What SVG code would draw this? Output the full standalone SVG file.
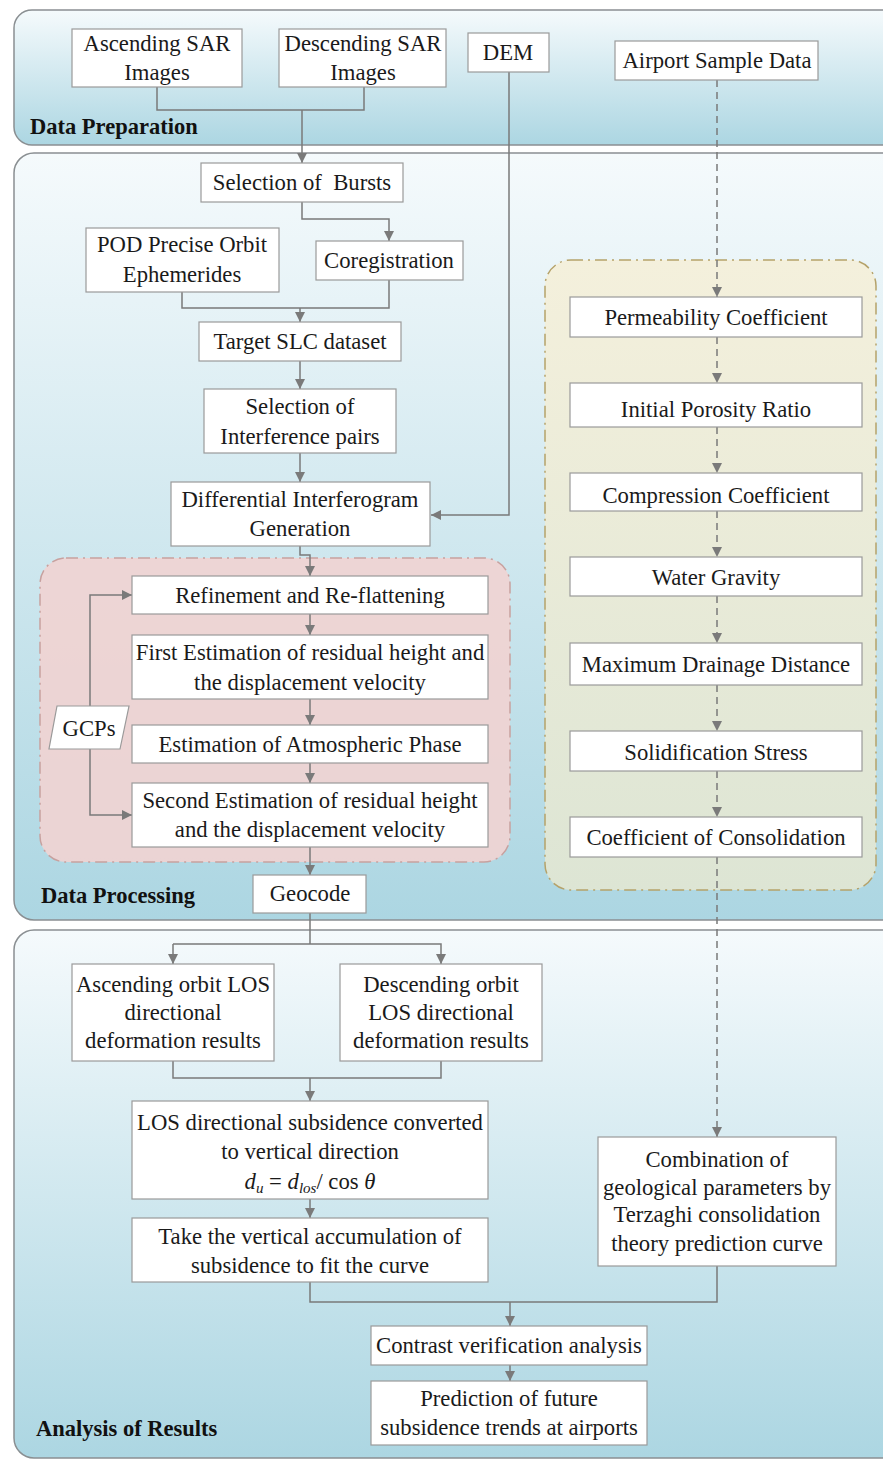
<svg xmlns="http://www.w3.org/2000/svg" width="883" height="1461" viewBox="0 0 883 1461">
<defs>
<linearGradient id="gBlue" x1="0" y1="0" x2="0" y2="1">
<stop offset="0" stop-color="#f5fafc"/>
<stop offset="1" stop-color="#acd6e2"/>
</linearGradient>
<linearGradient id="gYel" x1="0" y1="0" x2="0" y2="1">
<stop offset="0" stop-color="#f4f0dc"/>
<stop offset="1" stop-color="#dde5d4"/>
</linearGradient>
<marker id="arr" viewBox="0 0 10 10" refX="10" refY="5" markerWidth="10" markerHeight="10" markerUnits="userSpaceOnUse" orient="auto">
<path d="M0,0 L10,5 L0,10 z" fill="#7a7a7a"/>
</marker>
<style>
.panel{fill:url(#gBlue);stroke:#8a8f92;stroke-width:1.5}
.box{fill:#ffffff;stroke:#9a9a9a;stroke-width:1.2}
.t{font-family:"Liberation Serif","Times New Roman",serif;font-size:22.7px;fill:#1a1a1a;text-anchor:middle}
.lbl{font-family:"Liberation Serif","Times New Roman",serif;font-size:22.5px;font-weight:bold;fill:#111}
.c{fill:none;stroke:#7a7a7a;stroke-width:1.5}
.ca{fill:none;stroke:#7a7a7a;stroke-width:1.5;marker-end:url(#arr)}
.cd{fill:none;stroke:#7a7a7a;stroke-width:1.5;stroke-dasharray:7 5}
.cda{fill:none;stroke:#7a7a7a;stroke-width:1.5;stroke-dasharray:7 5;marker-end:url(#arr)}
</style>
</defs>

<g id="panels">
<rect class="panel" x="14" y="10" width="890" height="135" rx="18"/>
<rect class="panel" x="14" y="153" width="890" height="767" rx="20"/>
<rect class="panel" x="14" y="930" width="890" height="528" rx="20"/>
<text class="lbl" x="30" y="134">Data Preparation</text>
<text class="lbl" x="41" y="903">Data Processing</text>
<text class="lbl" x="36" y="1436">Analysis of Results</text>
</g>

<g id="regions">
<rect x="40" y="558" width="470" height="304" rx="26" fill="#f1d3d1" fill-opacity="0.9" stroke="#c7a19f" stroke-width="1.5" stroke-dasharray="12 5 2 5"/>
<rect x="545" y="260" width="331" height="630" rx="26" fill="url(#gYel)" stroke="#b5a26a" stroke-width="1.5" stroke-dasharray="12 5 2 5"/>
</g>

<g id="connectors">
<path class="c" d="M157,87 V110 H364 V87"/>
<path class="ca" d="M302,110 V163"/>
<path class="ca" d="M509,72 V515 H431"/>
<path class="ca" d="M302,202 V219 H389 V241"/>
<path class="c" d="M182,292 V308 H389 V280"/>
<path class="ca" d="M300,308 V322"/>
<path class="ca" d="M300,361 V389"/>
<path class="ca" d="M300,453 V482"/>
<path class="ca" d="M300,546 V555 H310 V576"/>
<path class="ca" d="M310,614 V635"/>
<path class="ca" d="M310,699 V725"/>
<path class="ca" d="M310,763 V783"/>
<path class="ca" d="M90,706 V595 H132"/>
<path class="ca" d="M90,749 V815 H132"/>
<path class="ca" d="M310,847 V875"/>
<path class="cda" d="M717,80 V297"/>
<path class="cda" d="M717,337 V383"/>
<path class="cda" d="M717,427 V473"/>
<path class="cda" d="M717,511 V557"/>
<path class="cda" d="M717,596 V643"/>
<path class="cda" d="M717,685 V731"/>
<path class="cda" d="M717,771 V817"/>
<path class="cda" d="M717,857 V1137"/>
<path class="c" d="M310,913 V944"/>
<path class="ca" d="M173,944 V964"/>
<path class="ca" d="M173,944 H441 V964"/>
<path class="c" d="M173,1061 V1078 H441 V1061"/>
<path class="ca" d="M310,1078 V1101"/>
<path class="ca" d="M310,1199 V1218"/>
<path class="c" d="M310,1282 V1302 H717 V1266"/>
<path class="ca" d="M510,1302 V1326"/>
<path class="ca" d="M510,1365 V1381"/>
</g>

<g id="n-asc-sar"><rect class="box" x="72" y="29" width="170" height="58"/><text class="t" x="157" y="51">Ascending SAR</text><text class="t" x="157" y="80">Images</text></g>
<g id="n-desc-sar"><rect class="box" x="279" y="29" width="167" height="58"/><text class="t" x="363" y="51">Descending SAR</text><text class="t" x="363" y="80">Images</text></g>
<g id="n-dem"><rect class="box" x="468" y="33" width="81" height="39"/><text class="t" x="508" y="60">DEM</text></g>
<g id="n-airport"><rect class="box" x="615" y="41" width="203" height="39"/><text class="t" x="717" y="68">Airport Sample Data</text></g>

<g id="n-bursts"><rect class="box" x="201" y="163" width="202" height="39"/><text class="t" x="302" y="190" xml:space="preserve">Selection of  Bursts</text></g>
<g id="n-pod"><rect class="box" x="86" y="228" width="193" height="64"/><text class="t" x="182" y="252">POD Precise Orbit</text><text class="t" x="182" y="282">Ephemerides</text></g>
<g id="n-coreg"><rect class="box" x="316" y="241" width="147" height="39"/><text class="t" x="389" y="268">Coregistration</text></g>
<g id="n-slc"><rect class="box" x="199" y="322" width="202" height="39"/><text class="t" x="300" y="349">Target SLC dataset</text></g>
<g id="n-pairs"><rect class="box" x="204" y="389" width="192" height="64"/><text class="t" x="300" y="414">Selection of</text><text class="t" x="300" y="444">Interference pairs</text></g>
<g id="n-diff"><rect class="box" x="171" y="482" width="259" height="64"/><text class="t" x="300" y="507">Differential Interferogram</text><text class="t" x="300" y="536">Generation</text></g>

<g id="n-refine"><rect class="box" x="132" y="576" width="356" height="38"/><text class="t" x="310" y="603">Refinement and Re-flattening</text></g>
<g id="n-first"><rect class="box" x="132" y="635" width="356" height="64"/><text class="t" x="310" y="660">First Estimation of residual height and</text><text class="t" x="310" y="690">the displacement velocity</text></g>
<g id="n-atmo"><rect class="box" x="132" y="725" width="356" height="38"/><text class="t" x="310" y="752">Estimation of Atmospheric Phase</text></g>
<g id="n-second"><rect class="box" x="132" y="783" width="356" height="64"/><text class="t" x="310" y="808">Second Estimation of residual height</text><text class="t" x="310" y="837">and the displacement velocity</text></g>
<g id="n-gcps"><polygon points="57,706 129,706 120,749 49,749" fill="#ffffff" stroke="#9a9a9a" stroke-width="1.2"/><text class="t" x="89" y="736">GCPs</text></g>
<g id="n-geocode"><rect class="box" x="253" y="875" width="113" height="38"/><text class="t" x="310" y="901">Geocode</text></g>

<g id="n-perm"><rect class="box" x="570" y="297" width="292" height="40"/><text class="t" x="716" y="325">Permeability Coefficient</text></g>
<g id="n-poro"><rect class="box" x="570" y="383" width="292" height="44"/><text class="t" x="716" y="417">Initial Porosity Ratio</text></g>
<g id="n-comp"><rect class="box" x="570" y="473" width="292" height="38"/><text class="t" x="716" y="503">Compression Coefficient</text></g>
<g id="n-water"><rect class="box" x="570" y="557" width="292" height="39"/><text class="t" x="716" y="585">Water Gravity</text></g>
<g id="n-drain"><rect class="box" x="570" y="643" width="292" height="42"/><text class="t" x="716" y="672">Maximum Drainage Distance</text></g>
<g id="n-solid"><rect class="box" x="570" y="731" width="292" height="40"/><text class="t" x="716" y="760">Solidification Stress</text></g>
<g id="n-consol"><rect class="box" x="570" y="817" width="292" height="40"/><text class="t" x="716" y="845">Coefficient of Consolidation</text></g>

<g id="n-asc-los"><rect class="box" x="72" y="964" width="202" height="97"/><text class="t" x="173" y="992">Ascending orbit LOS</text><text class="t" x="173" y="1020">directional</text><text class="t" x="173" y="1048">deformation results</text></g>
<g id="n-desc-los"><rect class="box" x="340" y="964" width="202" height="97"/><text class="t" x="441" y="992">Descending orbit</text><text class="t" x="441" y="1020">LOS directional</text><text class="t" x="441" y="1048">deformation results</text></g>
<g id="n-convert"><rect class="box" x="132" y="1101" width="356" height="98"/><text class="t" x="310" y="1130">LOS directional subsidence converted</text><text class="t" x="310" y="1159">to vertical direction</text><text class="t" x="310" y="1189"><tspan font-style="italic">d</tspan><tspan font-style="italic" font-size="15" baseline-shift="-4">u</tspan> = <tspan font-style="italic">d</tspan><tspan font-style="italic" font-size="15" baseline-shift="-4">los</tspan>/ cos <tspan font-style="italic">θ</tspan></text></g>
<g id="n-accum"><rect class="box" x="132" y="1218" width="356" height="64"/><text class="t" x="310" y="1244">Take the vertical accumulation of</text><text class="t" x="310" y="1273">subsidence to fit the curve</text></g>
<g id="n-terz"><rect class="box" x="598" y="1137" width="238" height="129"/><text class="t" x="717" y="1167">Combination of</text><text class="t" x="717" y="1195">geological parameters by</text><text class="t" x="717" y="1222">Terzaghi consolidation</text><text class="t" x="717" y="1251">theory prediction curve</text></g>
<g id="n-contrast"><rect class="box" x="371" y="1326" width="276" height="39"/><text class="t" x="509" y="1353">Contrast verification analysis</text></g>
<g id="n-predict"><rect class="box" x="371" y="1381" width="276" height="64"/><text class="t" x="509" y="1406">Prediction of future</text><text class="t" x="509" y="1435">subsidence trends at airports</text></g>
</svg>
